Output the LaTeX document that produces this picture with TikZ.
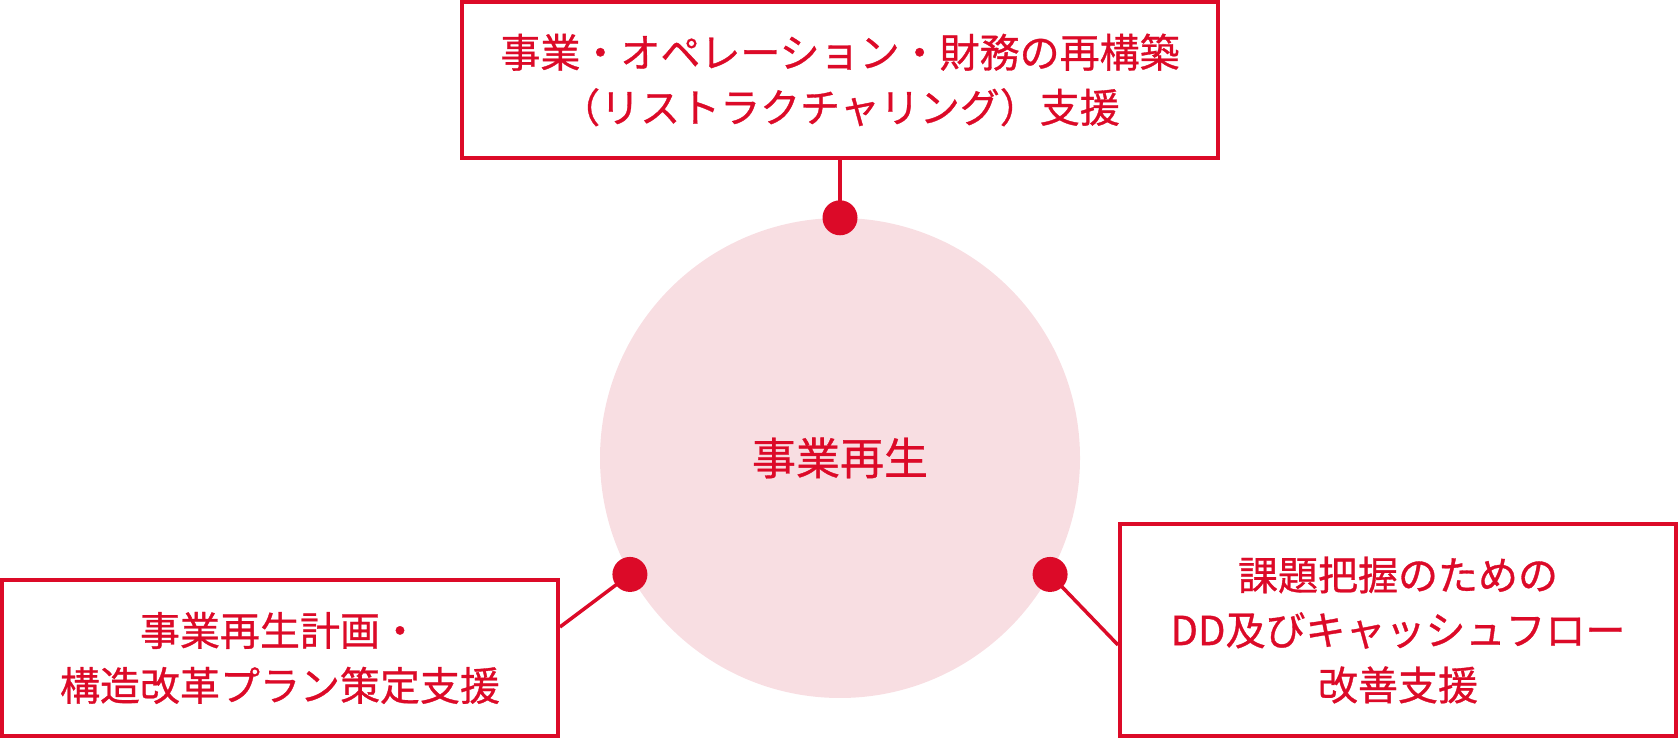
\documentclass[tikz,border=0pt]{standalone}
\usepackage{fontspec}
\setmainfont{Noto Sans CJK JP}[BoldFont={Noto Sans CJK JP}, BoldFeatures={FakeBold=0.8}]
\usetikzlibrary{positioning}
\definecolor{accent}{HTML}{DC0A28}
\definecolor{pale}{HTML}{F8DEE2}
\tikzset{
    box/.style = {rectangle, draw=accent, line width=4pt, fill=white, align=center, text=accent, inner sep=0pt, font=\fontsize{40}{55}\selectfont\bfseries},
    hub/.style = {circle, fill=pale, minimum size=480pt, inner sep=0pt, text=accent, font=\fontsize{44}{55}\selectfont\bfseries},
    dot/.style = {circle, fill=accent, minimum size=35pt, inner sep=0pt},
    link/.style = {draw=accent, line width=3.5pt}
}
\begin{document}
\begin{tikzpicture}[x=1pt,y=1pt]
\useasboundingbox (0,0) rectangle (1678,738);
%
\node[hub] at (840, 280) (center) {事業再生};
\node[box, minimum width=756pt, minimum height=156pt] at (840, 658) (top) {事業・オペレーション・財務の再構築\\（リストラクチャリング）支援};
\node[box, minimum width=556pt, minimum height=156pt] at (280, 80) (plan) {事業再生計画・\\構造改革プラン策定支援};
\node[box, minimum width=556pt, minimum height=212pt] at (1398, 108) (cash) {課題把握のための\\DD及びキャッシュフロー\\改善支援};
%
\coordinate (planend) at ([yshift=31pt]plan.east);
\coordinate (cashend) at ([yshift=-15pt]cash.west);
%
\draw[link] (top.south) -- (center.north);
\draw[link] (center.209) -- (planend);
\draw[link] (center.331) -- (cashend);
%
\node[dot] at (center.north) (dtop) {};
\node[dot] at (center.209) (dplan) {};
\node[dot] at (center.331) (dcash) {};

\end{tikzpicture}
\end{document}
